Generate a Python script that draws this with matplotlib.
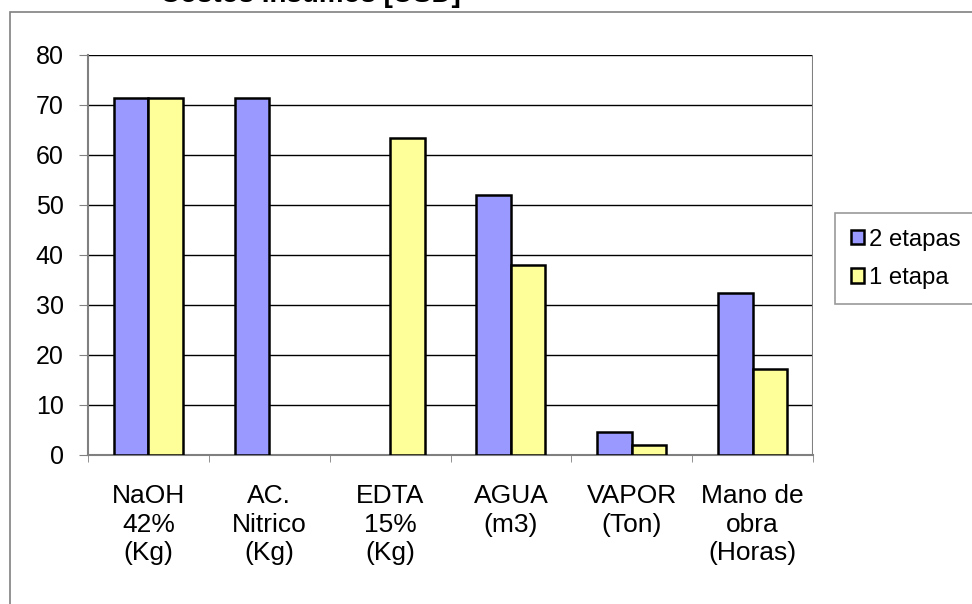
import matplotlib.pyplot as plt
import matplotlib.patches as mpatches
import numpy as np

plt.rcParams['font.family'] = ['Liberation Sans', 'DejaVu Sans']

# datos
categorias = ['NaOH\n42%\n(Kg)', 'AC.\nNitrico\n(Kg)', 'EDTA\n15%\n(Kg)',
              'AGUA\n(m3)', 'VAPOR\n(Ton)', 'Mano de\nobra\n(Horas)']
dos_etapas = [71.5, 71.5, 0, 52.0, 4.6, 32.5]
una_etapa = [71.5, 0, 63.5, 38.0, 2.0, 17.2]
series = ['2 etapas', '1 etapa']
titulo = 'Costos Insumos [USD]'

fig = plt.figure(figsize=(9.72, 6.04), dpi=100)
ax = fig.add_axes([88 / 972, 1 - 455 / 604, 725 / 972, 400 / 604])

# borde exterior del grafico (cortado a la derecha y abajo)
fig.patches.append(mpatches.Rectangle((10 / 972, -0.1), 1.2, 1 - 12 / 604 + 0.1,
                                      transform=fig.transFigure, fill=False,
                                      edgecolor='#808080', linewidth=1.2))

# titulo cortado arriba
fig.text(160 / 972, 1 - 1.5 / 604, titulo, fontsize=20, fontweight='bold',
         va='baseline', ha='left')

x = np.arange(len(categorias))
w = 1 / 3.5
b1 = ax.bar(x - w / 2, dos_etapas, w, color='#9999FF', edgecolor='black',
            linewidth=1.8, label=series[0], zorder=3)
b2 = ax.bar(x + w / 2, una_etapa, w, color='#FFFF99', edgecolor='black',
            linewidth=1.8, label=series[1], zorder=3)
# Excel no dibuja las barras con valor 0
for p in list(b1) + list(b2):
    if p.get_height() == 0:
        p.set_visible(False)

ax.set_xlim(-0.5, len(categorias) - 0.5)
ax.set_ylim(0, 80)
ax.set_yticks(range(0, 81, 10))
ax.yaxis.grid(True, color='black', linewidth=1)
ax.set_axisbelow(True)

ax.set_xticks(x)
ax.set_xticklabels(categorias)
ax.set_xticks(np.arange(-0.5, len(categorias)), minor=True)
ax.tick_params(axis='x', which='major', length=0, pad=21, labelsize=19)
ax.tick_params(axis='x', which='minor', length=5, color='#808080', direction='out')
ax.tick_params(axis='y', labelsize=18, length=6.5, color='#808080', pad=11)
for lbl in ax.get_xticklabels():
    lbl.set_linespacing(1.24)

for s in ['top', 'right']:
    ax.spines[s].set_visible(False)
for s in ['left', 'bottom']:
    ax.spines[s].set_color('#808080')
    ax.spines[s].set_linewidth(1.5)
ax.axvline(len(categorias) - 0.5, color='#808080', linewidth=1.5)

leg = fig.legend(loc='upper left', bbox_to_anchor=(835 / 972, 1 - 213 / 604),
                 fontsize=17.2, frameon=True, fancybox=False, edgecolor='#808080',
                 handlelength=0.57, handleheight=0.57, handletextpad=0.2,
                 borderpad=0.65, labelspacing=0.68, borderaxespad=0)
leg.get_frame().set_linewidth(1.2)

fig.savefig('out.png', dpi=100)
